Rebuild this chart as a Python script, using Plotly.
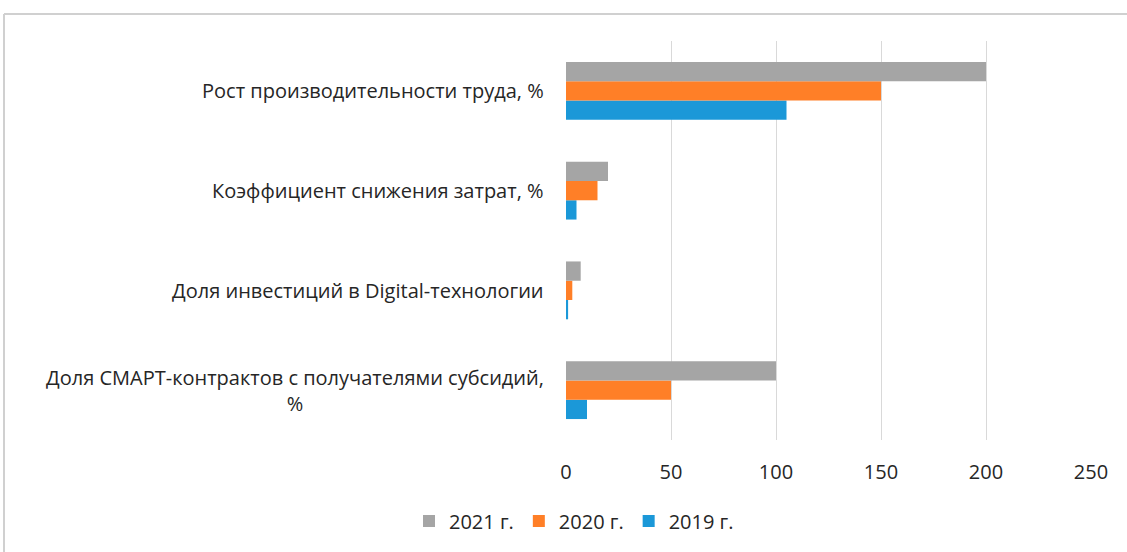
import plotly.graph_objects as go

categories = [
    "Рост производительности труда, %",
    "Коэффициент снижения затрат, %",
    "Доля инвестиций в Digital-технологии",
    "Доля СМАРТ-контрактов с получателями субсидий,<br>%",
]
series_names = ["2019 г.", "2020 г.", "2021 г."]
values_2019 = [105, 5, 1, 10]
values_2020 = [150, 15, 3, 50]
values_2021 = [200, 20, 7, 100]
colors = ["#1B98D8", "#FF7F27", "#A5A5A5"]
x_ticks = [0, 50, 100, 150, 200, 250]

W, H = 1127, 552
L, R, T, B = 566, 1091, 41, 440

fig = go.Figure()
for name, vals, col in zip(series_names, [values_2019, values_2020, values_2021], colors):
    fig.add_trace(go.Bar(
        y=categories, x=vals, name=name, orientation="h",
        marker=dict(color=col, line=dict(width=0)),
    ))

font_family = "Open Sans, Liberation Sans, sans-serif"
FS = 20

fig.update_layout(
    width=W, height=H,
    margin=dict(l=L, r=W - R, t=T, b=H - B, pad=0),
    paper_bgcolor="white", plot_bgcolor="white",
    barmode="group", bargap=0.42, bargroupgap=0,
    font=dict(family=font_family, size=FS, color="#262626"),
    showlegend=True,
    legend=dict(
        orientation="h", traceorder="reversed",
        x=(574 - L) / (R - L), xanchor="center",
        y=(B - 521) / (B - T), yanchor="middle",
        font=dict(size=FS, color="#262626"),
        itemwidth=30,
    ),
    xaxis=dict(
        range=[0, 250], tickvals=x_ticks, showgrid=True,
        gridcolor="#D9D9D9", gridwidth=1, zeroline=False,
        ticks="outside", ticklen=14, tickcolor="rgba(0,0,0,0)",
        tickfont=dict(size=FS, color="#262626"), showline=False,
    ),
    yaxis=dict(
        categoryorder="array", categoryarray=categories[::-1],
        showticklabels=False, showgrid=False, zeroline=False, showline=False,
    ),
)

for cat in categories:
    fig.add_annotation(
        x=0, xref="paper", y=cat, yref="y", xanchor="right", yanchor="middle",
        xshift=-20, text=cat, showarrow=False, align="center",
        font=dict(size=FS, color="#262626", family=font_family),
    )

# outer frame
fx0 = (4 - L) / (R - L)
fy1 = (B - 14) / (B - T)
fig.add_shape(type="line", xref="paper", yref="paper", x0=fx0, x1=(W + 10 - L) / (R - L),
              y0=fy1, y1=fy1, line=dict(color="#D0D0D0", width=2))
fig.add_shape(type="line", xref="paper", yref="paper", x0=fx0, x1=fx0,
              y0=fy1, y1=(B - H - 10) / (B - T), line=dict(color="#D0D0D0", width=2))

fig.write_html("out.html", config={"displayModeBar": False},
               post_script="document.body.style.margin='0';")
